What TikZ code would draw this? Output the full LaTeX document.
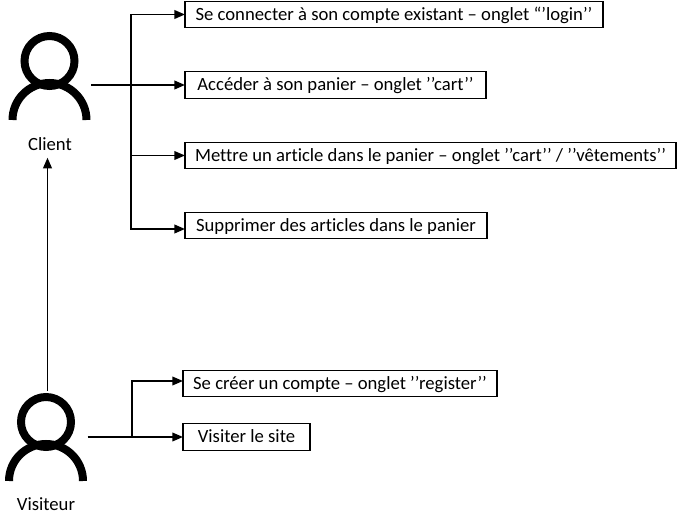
\documentclass[tikz,border=0pt]{standalone}
\usepackage{fontspec}
\setmainfont{Carlito}[Ligatures={NoCommon}]
\usetikzlibrary{arrows.meta}
\newcommand{\qq}{’\kern0pt’}
\tikzset{
    ongletbox/.style={draw=black, line width=0.9pt, inner sep=0pt, outer sep=0pt, minimum height=20pt, text height=11pt, text depth=2pt, font=\fontsize{14pt}{16pt}\selectfont},
    iconbox/.style={inner sep=0pt, outer sep=0pt, minimum width=60pt, minimum height=69pt},
    rolelabel/.style={inner sep=0pt, outer sep=3pt, text height=11pt, text depth=2pt, font=\fontsize{14pt}{16pt}\selectfont},
    trunkline/.style={black, line width=1.4pt},
    branchline/.style={black, line width=1.1pt},
    tip/.style={-{Triangle[length=8pt, width=6.5pt]}},
    personicon/.pic={
        \draw[black, line width=6pt] (0,0) circle (25);
        \draw[black, line width=6pt] (-37,59) arc (180:360:37);
    }
}
\begin{document}
\begin{tikzpicture}[x=0.75pt, y=-0.75pt]

    \useasboundingbox (0,0) rectangle (679,513);

    %% --- Icons ---
    \pic at (49.5,61) {personicon};
    \pic at (46,422) {personicon};
    \node[iconbox] (clienticon) at (51,85) {};
    \node[iconbox] (visiteuricon) at (47.5,437) {};

    %% --- Role labels ---
    \node[rolelabel] (client) at (50,145) {Client};
    \node[rolelabel] (visiteur) at (46,505) {Visiteur};

    %% --- Client boxes ---
    \node[ongletbox, minimum width=313.5pt] (login) at (394,14.5) {Se connecter à son compte existant – onglet “’login\qq};
    \node[ongletbox, minimum width=225.75pt] (cart) at (335.5,85) {Accéder à son panier – onglet \qq cart\qq};
    \node[ongletbox, minimum width=368.25pt] (vetements) at (430.5,155.5) {Mettre un article dans le panier – onglet \qq cart\qq{} / \qq vêtements\qq};
    \node[ongletbox, minimum width=226.5pt] (supprimer) at (336,225.5) {Supprimer des articles dans le panier};

    %% --- Visiteur boxes ---
    \node[ongletbox, minimum width=235.5pt] (register) at (340,383.5) {Se créer un compte – onglet \qq register\qq};
    \node[ongletbox, minimum width=95.25pt] (site) at (246.5,437) {Visiter le site};

    %% --- Connector ends ---
    \coordinate (clienttrunk) at (131,85);
    \coordinate (visiteurtrunk) at (132,437);
    \coordinate (supprimerin) at (185,229);
    \coordinate (registerin) at (183,381);

    %% --- Client connectors ---
    \draw[trunkline, tip] (clienticon.east) -- (cart.west);
    \draw[trunkline, tip] (clienttrunk) |- (login.west);
    \draw[trunkline, tip] (clienttrunk) |- (supprimerin);
    \draw[branchline, tip] (clienttrunk |- vetements.west) -- (vetements.west);

    %% --- Visiteur connectors ---
    \draw[branchline, tip] (visiteuricon.east) -- (site.west);
    \draw[branchline, tip] (visiteurtrunk) |- (registerin);
    \draw[trunkline, tip] (visiteuricon.north) -- (visiteuricon.north |- client.south);

\end{tikzpicture}
\end{document}
